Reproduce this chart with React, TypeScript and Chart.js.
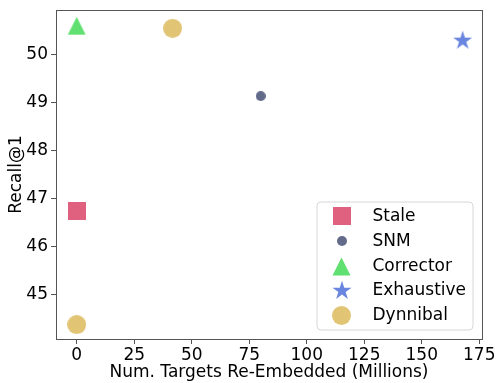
import React, { useEffect, useRef } from "react";
import { Chart, registerables } from "chart.js";

Chart.register(...registerables);

const seriesNames = ["Stale", "SNM", "Corrector", "Exhaustive", "Dynnibal"];
const staleX = [0];
const staleY = [46.74];
const snmX = [80];
const snmY = [49.13];
const correctorX = [0];
const correctorY = [50.59];
const exhaustiveX = [167.8];
const exhaustiveY = [50.3];
const dynnibalX = [41.7, 0];
const dynnibalY = [50.54, 44.38];
const xTicks = [0, 25, 50, 75, 100, 125, 150, 175];
const yTicks = [45, 46, 47, 48, 49, 50];

const colors = ["#e0607f", "#636b8a", "#60e070", "#6a85e0", "#e1c474"];

function makeCanvas(size: number, draw: (ctx: CanvasRenderingContext2D, s: number) => void) {
  const c = document.createElement("canvas");
  c.width = size;
  c.height = size;
  const ctx = c.getContext("2d")!;
  draw(ctx, size);
  return c;
}

function squareMarker(color: string) {
  return makeCanvas(18, (ctx, s) => {
    ctx.fillStyle = color;
    ctx.fillRect(0, 0, s, s);
  });
}
function circleMarker(color: string, d: number) {
  return makeCanvas(d, (ctx, s) => {
    ctx.fillStyle = color;
    ctx.beginPath();
    ctx.arc(s / 2, s / 2, s / 2, 0, Math.PI * 2);
    ctx.fill();
  });
}
function triangleMarker(color: string) {
  return makeCanvas(19, (ctx, s) => {
    ctx.fillStyle = color;
    ctx.beginPath();
    ctx.moveTo(s / 2, 0.5);
    ctx.lineTo(s - 0.5, s - 0.5);
    ctx.lineTo(0.5, s - 0.5);
    ctx.closePath();
    ctx.fill();
  });
}
function starMarker(color: string) {
  return makeCanvas(20, (ctx, s) => {
    ctx.fillStyle = color;
    ctx.beginPath();
    const cx = s / 2;
    const cy = s / 2 + 0.8;
    const R = 10;
    const r = R * 0.382;
    for (let i = 0; i < 10; i++) {
      const rad = i % 2 === 0 ? R : r;
      const a = -Math.PI / 2 + (i * Math.PI) / 5;
      const px = cx + rad * Math.cos(a);
      const py = cy + rad * Math.sin(a);
      if (i === 0) ctx.moveTo(px, py);
      else ctx.lineTo(px, py);
    }
    ctx.closePath();
    ctx.fill();
  });
}

function toPoints(xs: number[], ys: number[]) {
  return xs.map((x, i) => ({ x, y: ys[i] }));
}

export default function App() {
  const ref = useRef<HTMLCanvasElement | null>(null);
  useEffect(() => {
    if (!ref.current) return;
    const markers = [
      squareMarker(colors[0]),
      circleMarker(colors[1], 10),
      triangleMarker(colors[2]),
      starMarker(colors[3]),
      circleMarker(colors[4], 19),
    ];
    const datas = [
      toPoints(staleX, staleY),
      toPoints(snmX, snmY),
      toPoints(correctorX, correctorY),
      toPoints(exhaustiveX, exhaustiveY),
      toPoints(dynnibalX, dynnibalY),
    ];
    const font = { family: "DejaVu Sans", size: 17 };

    const framePlugin = {
      id: "frame",
      afterDatasetsDraw(chart: any) {
        const { ctx, chartArea: a } = chart;
        ctx.save();
        ctx.strokeStyle = "#555555";
        ctx.lineWidth = 1;
        ctx.strokeRect(Math.round(a.left) + 0.5, Math.round(a.top) + 0.5, Math.round(a.right - a.left), Math.round(a.bottom - a.top));
        // legend
        const lx = 317, ly = 202, lw = 156, lh = 128, rr = 4;
        ctx.fillStyle = "rgba(255,255,255,0.8)";
        ctx.strokeStyle = "#d6d6d6";
        ctx.beginPath();
        ctx.moveTo(lx + rr, ly);
        ctx.arcTo(lx + lw, ly, lx + lw, ly + lh, rr);
        ctx.arcTo(lx + lw, ly + lh, lx, ly + lh, rr);
        ctx.arcTo(lx, ly + lh, lx, ly, rr);
        ctx.arcTo(lx, ly, lx + lw, ly, rr);
        ctx.closePath();
        ctx.fill();
        ctx.stroke();
        ctx.font = "17px 'DejaVu Sans'";
        ctx.fillStyle = "#000";
        ctx.textBaseline = "middle";
        const rows = [216, 241, 266, 290, 315];
        seriesNames.forEach((name, i) => {
          const m = markers[i];
          ctx.drawImage(m, Math.round(341.7 - m.width / 2), Math.round(rows[i] - m.height / 2));
          ctx.fillText(name, 372.5, rows[i] + 1);
        });
        ctx.restore();
      },
    };

    const chart = new Chart(ref.current, {
      type: "scatter",
      data: {
        datasets: datas.map((d, i) => ({
          label: seriesNames[i],
          data: d,
          pointStyle: markers[i] as any,
          backgroundColor: colors[i],
          borderColor: colors[i],
          pointRadius: 9,
          pointHoverRadius: 9,
        })),
      },
      options: {
        responsive: false,
        animation: false,
        layout: { padding: { top: 7, right: 15, left: 0, bottom: 0 } },
        plugins: { legend: { display: false }, tooltip: { enabled: false } },
        scales: {
          x: {
            type: "linear",
            min: -9,
            max: 176.2,
            afterBuildTicks: (scale: any) => {
              scale.ticks = xTicks.map((v) => ({ value: v }));
            },
            afterFit: (scale: any) => {
              scale.height = 44;
              scale.paddingLeft = 0;
              scale.paddingRight = 0;
            },
            grid: { drawOnChartArea: false, drawTicks: true, tickLength: 5, color: "#555555" },
            border: { display: true, color: "#555555" },
            ticks: { font, color: "#000", padding: 1, maxRotation: 0, autoSkip: false },
            title: { display: true, text: "Num. Targets Re-Embedded (Millions)", font, color: "#000", padding: { top: 0, bottom: 0 } },
          },
          y: {
            type: "linear",
            min: 44.08,
            max: 50.92,
            afterBuildTicks: (scale: any) => {
              scale.ticks = yTicks.map((v) => ({ value: v }));
            },
            afterFit: (scale: any) => {
              scale.width = 56;
              scale.paddingTop = 0;
              scale.paddingBottom = 0;
            },
            grid: { drawOnChartArea: false, drawTicks: true, tickLength: 5, color: "#555555" },
            border: { display: true, color: "#555555" },
            ticks: { font, color: "#000", padding: 3, autoSkip: false },
            title: { display: true, text: "Recall@1", font, color: "#000", padding: { top: 6, bottom: 0 } },
          },
        },
      },
      plugins: [framePlugin],
    });
    return () => chart.destroy();
  }, []);
  return (
    <div style={{ position: "absolute", left: 0, top: 0, width: 497, height: 383, background: "#fff" }}>
      <canvas ref={ref} width={497} height={383} style={{ display: "block" }} />
    </div>
  );
}
